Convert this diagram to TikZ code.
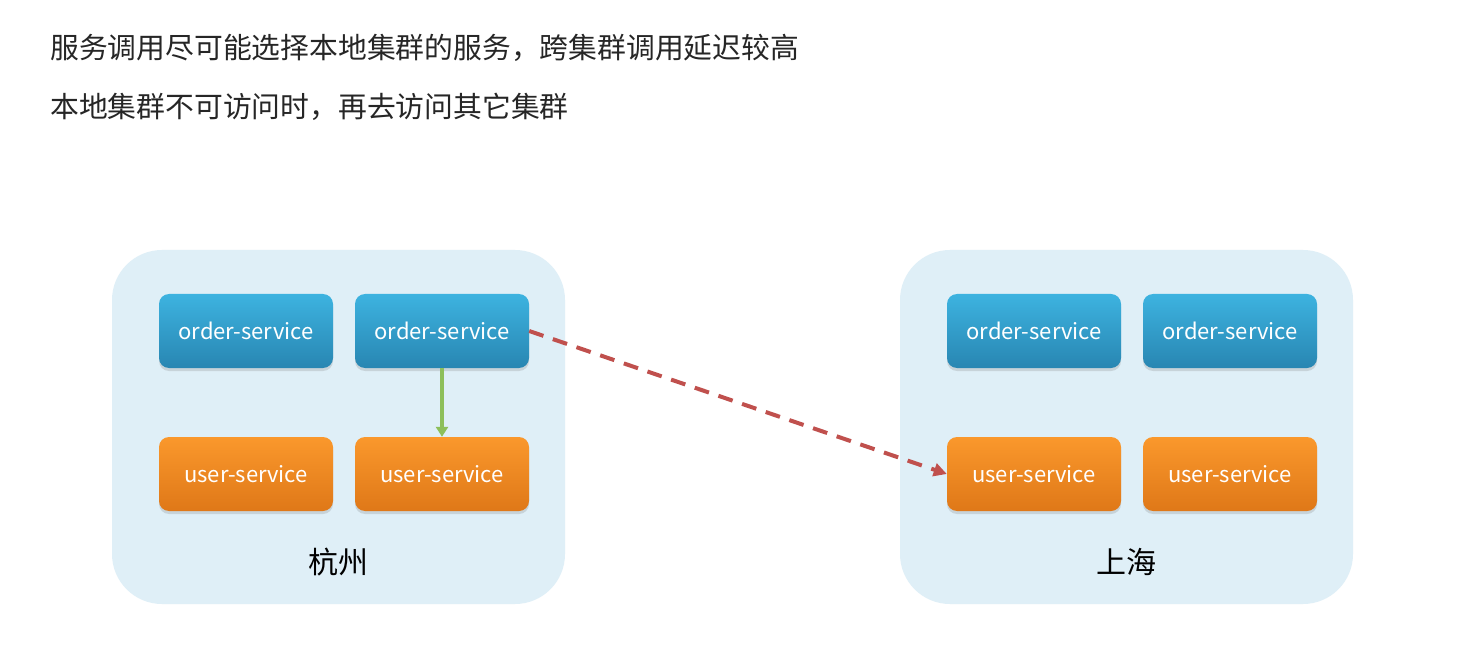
\documentclass[tikz,border=0pt]{standalone}
\usepackage{fontspec}
\setmainfont{Noto Sans CJK SC}
\usetikzlibrary{arrows.meta,shadows}
\definecolor{clusterbg}{HTML}{DFEFF7}
\definecolor{bluetop}{HTML}{3DB3E0}
\definecolor{bluebot}{HTML}{2886B2}
\definecolor{orangetop}{HTML}{FA982C}
\definecolor{orangebot}{HTML}{DF7818}
\definecolor{greenline}{HTML}{8DBF5A}
\definecolor{redline}{HTML}{C0504D}
\definecolor{textgray}{HTML}{262626}
\begin{document}
\begin{tikzpicture}[x=1pt,y=-1pt,
  cluster/.style={fill=clusterbg, rounded corners=50pt},
  svcbox/.style={rounded corners=10pt, minimum width=174pt, minimum height=74pt,
    inner sep=0pt, text=white, font=\fontsize{22}{26}\selectfont,
    drop shadow={shadow xshift=0pt, shadow yshift=-3pt, opacity=0.25}},
  ordersvc/.style={svcbox, top color=bluetop, bottom color=bluebot},
  usersvc/.style={svcbox, top color=orangetop, bottom color=orangebot},
  clabel/.style={font=\fontsize{30}{35}\selectfont, text=black},
  headline/.style={anchor=west, font=\fontsize{28.8}{34}\selectfont, text=textgray, inner sep=0pt}]
\useasboundingbox (0,0) rectangle (1483,668);
\fill[white] (0,0) rectangle (1483,668);
% headings
\node[headline] (h1) at (50,48) {服务调用尽可能选择本地集群的服务，跨集群调用延迟较高};
\node[headline] (h2) at (50,107) {本地集群不可访问时，再去访问其它集群};
% clusters
\fill[cluster] (112,250) rectangle (565,604);
\fill[cluster] (900,250) rectangle (1353,604);
% Hangzhou
\node[ordersvc] (ho1) at (246,331) {order-service};
\node[ordersvc] (ho2) at (442,331) {order-service};
\node[usersvc] (hu1) at (246,474) {user-service};
\node[usersvc] (hu2) at (442,474) {user-service};
\node[clabel] (hz) at (338,562) {杭州};
% Shanghai
\node[ordersvc] (so1) at (1034,331) {order-service};
\node[ordersvc] (so2) at (1230,331) {order-service};
\node[usersvc] (su1) at (1034,474) {user-service};
\node[usersvc] (su2) at (1230,474) {user-service};
\node[clabel] (sh) at (1126,562) {上海};
% connectors
\draw[greenline, line width=3.5pt, -{Triangle[length=10pt,width=12pt]}] (ho2.south) -- (hu2.north);
\draw[redline, line width=4pt, dash pattern=on 15pt off 10pt, -{Triangle[length=13pt,width=13pt]}] (ho2.east) -- (su1.west);
\end{tikzpicture}
\end{document}
